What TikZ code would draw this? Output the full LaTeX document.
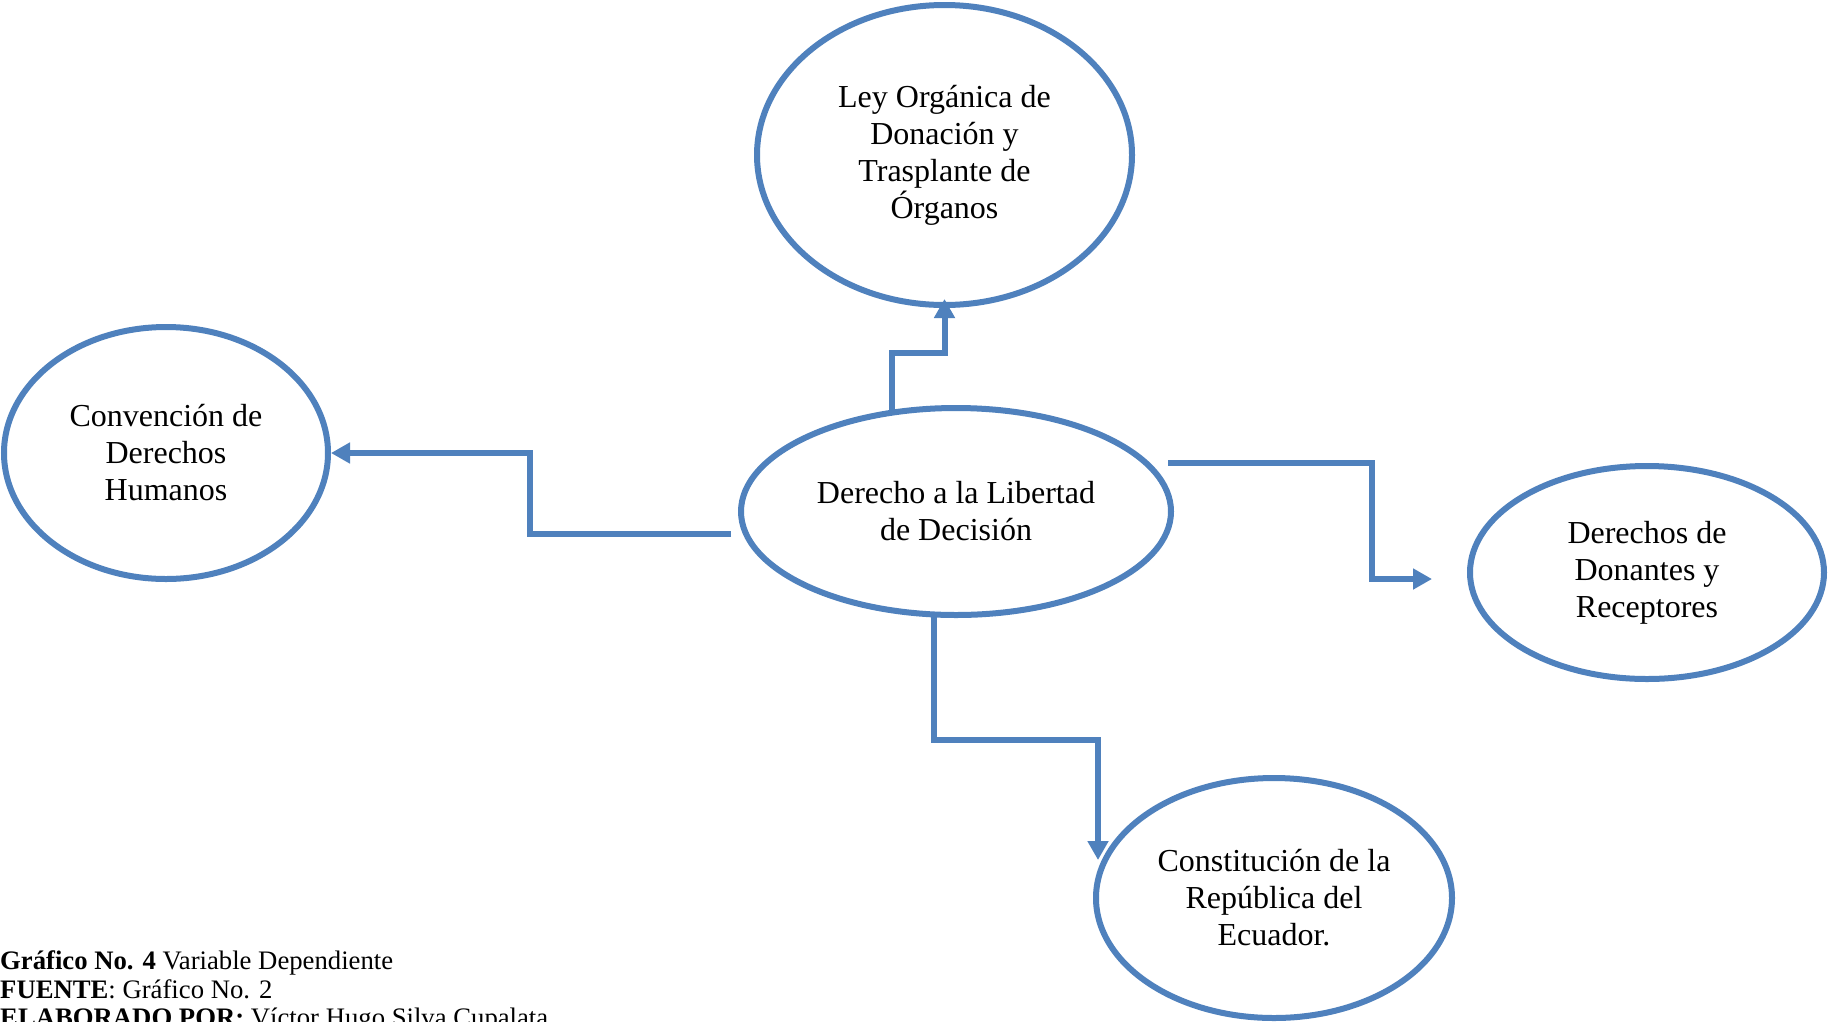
\documentclass[tikz,border=0pt]{standalone}
\usepackage{fontspec}
\setmainfont{Liberation Serif}
\usetikzlibrary{arrows.meta,shapes.geometric}
\definecolor{accentblue}{HTML}{4F81BD}
\tikzset{
  concept/.style={ellipse, draw=accentblue, line width=6pt, inner sep=0pt,
    align=center, font=\fontsize{32}{37}\selectfont},
  conn/.style={draw=accentblue, line width=6pt,
    -{Triangle[length=19pt,width=20pt]}},
  captext/.style={anchor=base west, inner sep=0pt, font=\fontsize{26.7}{29}\selectfont}
}
\begin{document}
\begin{tikzpicture}[x=1pt,y=-1pt]
\useasboundingbox (0,0) rectangle (1828,1021);
\clip (0,0) rectangle (1828,1021);
\fill[white] (0,0) rectangle (1828,1021);

% concepts
\node[concept, minimum width=375pt, minimum height=300pt] (ley) at (944.5,155)
  {Ley Orgánica de\\Donación y\\Trasplante de\\Órganos};
\node[concept, minimum width=324pt, minimum height=252pt] (conv) at (166,453)
  {Convención de\\Derechos\\Humanos};
\node[concept, minimum width=430pt, minimum height=207pt] (ctr) at (956,511.5)
  {Derecho a la Libertad\\de Decisión};
\node[concept, minimum width=354pt, minimum height=213pt] (dd) at (1647,572.5)
  {Derechos de\\Donantes y\\Receptores};
\node[concept, minimum width=356pt, minimum height=240pt] (const) at (1274,898)
  {Constitución de la\\República del\\Ecuador.};

% free ends of the elbow connectors
\coordinate (lS) at (731,534);
\coordinate (lB) at (530,453);
\coordinate (rS) at (1168,463);
\coordinate (rB) at (1372,579);
\coordinate (rE) at (1432,579);
\coordinate (bB) at (1098,740);
\coordinate (bE) at (1098,860);

% connectors
\draw[conn] (ctr.122) |- (ley.south |- 0,353) -- ([yshift=9pt]ley.south);
\draw[conn] (lS) -| (lB) -- (conv.east);
\draw[conn] (rS) -| (rB) -- (rE);
\draw[conn] (ctr.258) |- (bB) -- (bE);

% caption
\node[captext] (cap1) at (0,969) {\textbf{Gráfico No. 4} Variable Dependiente};
\node[captext] (cap2) at (0,998) {\textbf{FUENTE}: Gráfico No. 2};
\node[captext] (cap3) at (0,1026) {\textbf{ELABORADO POR:} Víctor Hugo Silva Cupalata};
\end{tikzpicture}
\end{document}
